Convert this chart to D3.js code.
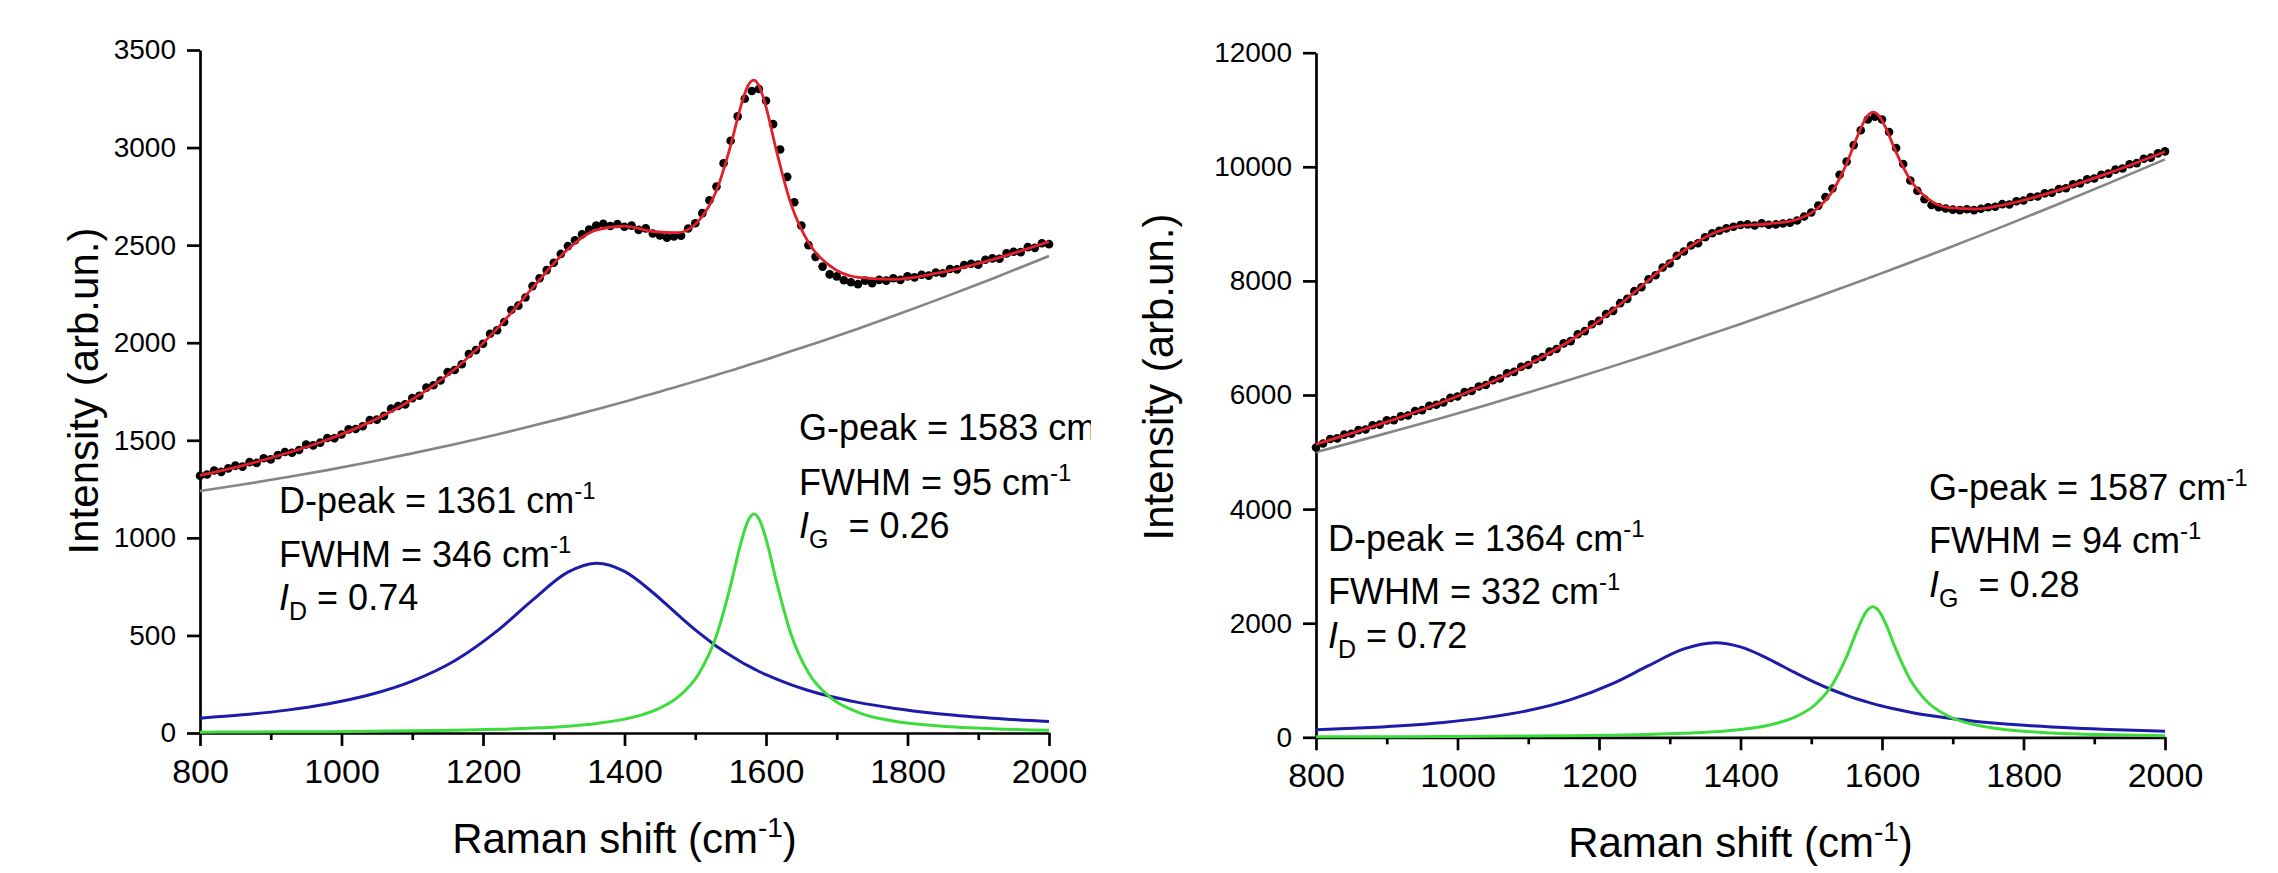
<!DOCTYPE html>
<html>
<head>
<meta charset="utf-8">
<script src="https://cdn.jsdelivr.net/npm/d3@7"></script>
<style>
  body { margin: 0; background: #fff; }
  svg { display: block; font-family: "Liberation Sans", Arial, sans-serif; }
</style>
</head>
<body>
<script>
const W = 2278, H = 873;

// axis ticks
const xTicks = [800, 1000, 1200, 1400, 1600, 1800, 2000];
const xMinor = [900, 1100, 1300, 1500, 1700, 1900];
const yTicksLeft = [0, 500, 1000, 1500, 2000, 2500, 3000, 3500];
const yTicksRight = [0, 2000, 4000, 6000, 8000, 10000, 12000];

// left spectrum: fit components
const xLeft = [800, 860, 920, 980, 1040, 1100, 1160, 1220, 1270, 1320, 1361, 1400, 1440, 1475, 1505, 1530, 1550, 1565, 1575, 1583, 1591, 1600, 1615, 1635, 1660, 1690, 1730, 1780, 1840, 1920, 2000];
const baseLeft = [1240, 1273, 1309, 1347, 1389, 1433, 1480, 1530, 1574, 1620, 1659, 1698, 1739, 1775, 1808, 1835, 1857, 1874, 1886, 1895, 1904, 1914, 1932, 1956, 1986, 2022, 2072, 2137, 2217, 2328, 2444];
const dPeakLeft = [76, 93, 116, 149, 196, 266, 370, 523, 681, 824, 870, 828, 720, 607, 514, 445, 397, 364, 344, 329, 314, 299, 276, 248, 218, 188, 157, 127, 100, 76, 59];
const gPeakLeft = [4, 5, 6, 7, 9, 11, 14, 19, 25, 35, 49, 71, 112, 182, 304, 500, 757, 981, 1091, 1122, 1091, 995, 772, 510, 309, 185, 106, 62, 37, 22, 14];
const fitLeft = [1320, 1370, 1431, 1503, 1593, 1709, 1864, 2072, 2281, 2479, 2578, 2597, 2570, 2564, 2626, 2780, 3010, 3219, 3321, 3346, 3310, 3208, 2980, 2714, 2514, 2395, 2335, 2325, 2355, 2426, 2518];

// left measured points, 800..2000 every 10 cm-1
const dataLeft = [
  1318, 1325, 1345, 1338, 1356, 1370, 1365, 1388, 1384, 1408,
  1402, 1424, 1440, 1436, 1450, 1478, 1474, 1488, 1512, 1510,
  1530, 1556, 1558, 1572, 1604, 1606, 1625, 1662, 1676, 1684,
  1716, 1728, 1770, 1782, 1806, 1850, 1860, 1890, 1942, 1962,
  1995, 2046, 2064, 2106, 2168, 2190, 2232, 2290, 2330, 2372,
  2410, 2455, 2495, 2525, 2555, 2580, 2600, 2610, 2598, 2608,
  2594, 2600, 2578, 2586, 2560, 2550, 2538, 2545, 2548, 2585,
  2612, 2664, 2730, 2800, 2920, 3035, 3160, 3250, 3290, 3300,
  3240, 3120, 2990, 2850, 2720, 2600, 2500, 2440, 2390, 2350,
  2340, 2320, 2310, 2300, 2318, 2305, 2322, 2318, 2330, 2322,
  2340, 2335, 2348, 2344, 2360, 2356, 2378, 2376, 2398, 2405,
  2400, 2425, 2432, 2430, 2458, 2466, 2464, 2490, 2486, 2510,
  2505];

// right spectrum
const xRight = [800, 860, 920, 980, 1040, 1100, 1160, 1220, 1270, 1320, 1364, 1400, 1440, 1475, 1505, 1530, 1550, 1565, 1577, 1587, 1597, 1605, 1620, 1640, 1665, 1695, 1730, 1780, 1840, 1920, 2000];
const baseRight = [5000, 5196, 5398, 5607, 5822, 6044, 6271, 6506, 6706, 6910, 7094, 7246, 7419, 7572, 7705, 7817, 7908, 7976, 8031, 8077, 8123, 8160, 8230, 8323, 8441, 8585, 8754, 8999, 9299, 9709, 10130];
const dPeakRight = [132, 162, 203, 261, 345, 470, 661, 946, 1255, 1549, 1658, 1584, 1371, 1146, 963, 829, 735, 672, 627, 591, 558, 534, 491, 440, 387, 333, 283, 228, 180, 136, 106];
const gPeakRight = [8, 10, 11, 14, 17, 21, 27, 37, 49, 69, 97, 136, 212, 343, 566, 926, 1413, 1878, 2190, 2289, 2190, 1996, 1533, 1008, 610, 365, 223, 128, 76, 45, 29];
const fitRight = [5140, 5368, 5613, 5882, 6184, 6535, 6959, 7489, 8011, 8528, 8849, 8966, 9002, 9061, 9234, 9572, 10056, 10526, 10847, 10957, 10871, 10690, 10254, 9771, 9437, 9283, 9260, 9355, 9555, 9889, 10265];

const dataRight = [
  5080, 5150, 5230, 5240, 5305, 5320, 5385, 5395, 5470, 5480,
  5555, 5560, 5625, 5640, 5720, 5735, 5810, 5830, 5870, 5950,
  5975, 6050, 6070, 6150, 6175, 6260, 6290, 6380, 6405, 6495,
  6525, 6625, 6665, 6760, 6805, 6905, 6945, 7065, 7120, 7240,
  7300, 7420, 7475, 7610, 7685, 7820, 7890, 8030, 8100, 8235,
  8305, 8440, 8515, 8620, 8660, 8765, 8835, 8880, 8920, 8950,
  8980, 8990, 8970, 9010, 8985, 8990, 9005, 9020, 9060, 9130,
  9200, 9320, 9470, 9620, 9860, 10090, 10380, 10640, 10830, 10880,
  10830, 10610, 10330, 10050, 9760, 9580, 9430, 9330, 9290, 9270,
  9250, 9240, 9255, 9240, 9265, 9290, 9300, 9345, 9340, 9395,
  9410, 9470, 9480, 9535, 9545, 9610, 9625, 9695, 9710, 9780,
  9795, 9860, 9880, 9950, 9970, 10045, 10065, 10140, 10160, 10235,
  10270];

// annotation values: position, FWHM, relative intensity
const dLabelLeft = ["1361", "346", "0.74"];
const gLabelLeft = ["1583", "95", "0.26"];
const dLabelRight = ["1364", "332", "0.72"];
const gLabelRight = ["1587", "94", "0.28"];

const svg = d3.select("body").append("svg")
  .attr("width", W)
  .attr("height", H)
  .style("background", "#fff");

svg.append("defs")
  .append("clipPath")
  .attr("id", "clipLeft")
  .append("rect")
  .attr("width", 1091)
  .attr("height", H);

function supText(g, x, y, main, sup) {
  const t = g.append("text").attr("x", x).attr("y", y).style("font-size", "36px");
  t.append("tspan").text(main);
  t.append("tspan").attr("dy", -14).style("font-size", "24px").text(sup);
}

function subText(g, x, y, sub, rest) {
  const t = g.append("text").attr("x", x).attr("y", y).style("font-size", "36px");
  t.append("tspan").style("font-style", "italic").text("I");
  t.append("tspan").attr("dy", 10).style("font-size", "25px").text(sub);
  t.append("tspan").attr("dy", -10).text(rest);
}

function drawPanel(p) {
  const g = svg.append("g");
  if (p.clip) g.attr("clip-path", `url(#${p.clip})`);

  const x = d3.scaleLinear().domain([800, 2000]).range([p.left, p.right]);
  const y = d3.scaleLinear().domain([0, p.yMax]).range([p.bottom, p.top]);
  const fmt = d3.format("d");

  // x axis, major + minor ticks
  const xa = g.append("g")
    .attr("transform", `translate(0,${p.bottom})`)
    .call(d3.axisBottom(x).tickValues(xTicks).tickFormat(fmt).tickSize(13).tickSizeOuter(0));
  g.append("g")
    .attr("transform", `translate(0,${p.bottom})`)
    .call(d3.axisBottom(x).tickValues(xMinor).tickSize(7).tickFormat(""))
    .call(s => s.select(".domain").remove());

  const ya = g.append("g")
    .attr("transform", `translate(${p.left},0)`)
    .call(d3.axisLeft(y).tickValues(p.yTicks).tickFormat(fmt).tickSize(13).tickSizeOuter(0).tickPadding(11));

  g.selectAll(".domain, .tick line")
    .attr("stroke", "#000")
    .attr("stroke-width", 2.7);
  g.selectAll(".tick text").attr("fill", "#000");
  xa.attr("font-size", null).attr("font-family", null);
  ya.attr("font-size", null).attr("font-family", null);
  xa.selectAll("text").attr("dy", null).attr("y", 50).style("font-size", "34px");
  ya.selectAll("text").style("font-size", "28px");

  // axis titles
  const xt = g.append("text")
    .attr("x", (p.left + p.right) / 2)
    .attr("y", p.xTitleY)
    .attr("text-anchor", "middle")
    .style("font-size", "42px");
  xt.append("tspan").text("Raman shift (cm");
  xt.append("tspan").attr("dy", -16).style("font-size", "28px").text("-1");
  xt.append("tspan").attr("dy", 16).text(")");

  g.append("text")
    .attr("transform", `translate(${p.yTitleX},${p.yTitleY}) rotate(-90)`)
    .attr("text-anchor", "middle")
    .style("font-size", "42px")
    .text("Intensity (arb.un.)");

  const line = (xs) => d3.line()
    .x((d, i) => x(xs[i]))
    .y(d => y(d))
    .curve(d3.curveMonotoneX);

  const curves = [
    [p.base, "#858585", 2.6],
    [p.dPeak, "#1c1ca8", 3],
    [p.gPeak, "#3ddc3d", 3]
  ];
  curves.forEach(([vals, col, w]) => {
    g.append("path")
      .datum(vals)
      .attr("fill", "none")
      .attr("stroke", col)
      .attr("stroke-width", w)
      .attr("d", line(p.xs));
  });

  // measured points
  const xData = d3.range(800, 2001, 10);
  g.append("g")
    .selectAll("circle")
    .data(p.data)
    .join("circle")
    .attr("cx", (d, i) => x(xData[i]))
    .attr("cy", d => y(d))
    .attr("r", 4.3)
    .attr("fill", "#000");

  g.append("path")
    .datum(p.fit)
    .attr("fill", "none")
    .attr("stroke", "#e0202a")
    .attr("stroke-width", 2.8)
    .attr("d", line(p.xs));

  // peak annotations
  const a = p.dAnn, b = p.gAnn;
  supText(g, a.x, a.y[0], `D-peak = ${p.dLabel[0]} cm`, "-1");
  supText(g, a.x, a.y[1], `FWHM = ${p.dLabel[1]} cm`, "-1");
  subText(g, a.x, a.y[2], "D", ` = ${p.dLabel[2]}`);
  supText(g, b.x, b.y[0], `G-peak = ${p.gLabel[0]} cm`, "-1");
  supText(g, b.x, b.y[1], `FWHM = ${p.gLabel[1]} cm`, "-1");
  subText(g, b.x, b.y[2], "G", `\u00a0\u00a0= ${p.gLabel[2]}`);
}

drawPanel({
  clip: "clipLeft",
  left: 200, right: 1049, bottom: 733, top: 50,
  yMax: 3500, yTicks: yTicksLeft,
  xs: xLeft, base: baseLeft, dPeak: dPeakLeft, gPeak: gPeakLeft, fit: fitLeft, data: dataLeft,
  dLabel: dLabelLeft, gLabel: gLabelLeft,
  dAnn: { x: 279, y: [513, 567, 610] },
  gAnn: { x: 799, y: [440, 495, 538] },
  xTitleY: 853, yTitleX: 98, yTitleY: 391
});

drawPanel({
  left: 1316, right: 2165, bottom: 737.3, top: 52.7,
  yMax: 12000, yTicks: yTicksRight,
  xs: xRight, base: baseRight, dPeak: dPeakRight, gPeak: gPeakRight, fit: fitRight, data: dataRight,
  dLabel: dLabelRight, gLabel: gLabelRight,
  dAnn: { x: 1328, y: [551, 604, 648] },
  gAnn: { x: 1929, y: [500, 553, 597] },
  xTitleY: 857, yTitleX: 1173, yTitleY: 377
});
</script>
</body>
</html>
